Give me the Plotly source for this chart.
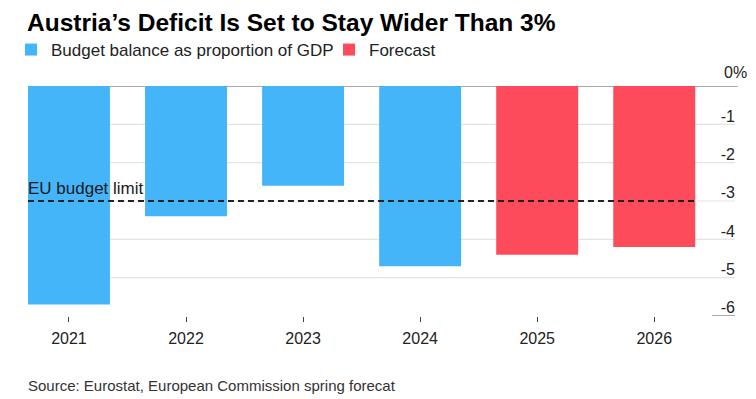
import plotly.graph_objects as go

# ---- data ----
years = ["2021", "2022", "2023", "2024", "2025", "2026"]
actual_years = ["2021", "2022", "2023", "2024"]
actual_values = [-5.7, -3.4, -2.6, -4.7]
forecast_years = ["2025", "2026"]
forecast_values = [-4.4, -4.2]
eu_limit = -3.0
y_ticks = [0, -1, -2, -3, -4, -5, -6]
y_tick_labels = ["0%", "-1", "-2", "-3", "-4", "-5", "-6"]

BLUE = "#45b5fa"
RED = "#fd4b5b"
BAR_WIDTH = 0.7
FONT = "Liberation Sans, Arial, Helvetica, sans-serif"

fig = go.Figure()
fig.add_bar(x=actual_years, y=actual_values, name="Budget balance as proportion of GDP",
            marker=dict(color=BLUE, line=dict(width=0)), width=BAR_WIDTH)
fig.add_bar(x=forecast_years, y=forecast_values, name="Forecast",
            marker=dict(color=RED, line=dict(width=0)), width=BAR_WIDTH)

# gridlines (all but the bottom one span the full width)
for v in y_ticks:
    if v == 0:
        fig.add_shape(type="line", xref="paper", yref="y", x0=0, x1=1.004, y0=v, y1=v,
                      line=dict(color="#8c8c8c", width=1.5), layer="below")
    elif v == min(y_ticks):
        fig.add_shape(type="line", xref="paper", yref="y", x0=0.9675, x1=1.0, y0=v, y1=v,
                      line=dict(color="#8c8c8c", width=1.5), layer="below")
    else:
        fig.add_shape(type="line", xref="paper", yref="y", x0=0, x1=1, y0=v, y1=v,
                      line=dict(color="#e3e3e3", width=1.2), layer="below")

# EU limit dashed line spanning from first bar's left edge to last bar's right edge
fig.add_shape(type="line", xref="x", yref="y",
              x0=0 - BAR_WIDTH / 2, x1=len(years) - 1 + BAR_WIDTH / 2,
              y0=eu_limit, y1=eu_limit,
              line=dict(color="#222222", width=1.8, dash="6px,4px"), layer="above")

fig.add_annotation(x=0 - BAR_WIDTH / 2, y=eu_limit, xref="x", yref="y",
                   text="EU budget limit", showarrow=False, xanchor="left", yanchor="bottom",
                   xshift=-2, yshift=1, font=dict(size=17, color="#1a1a1a", family=FONT))

# top label "0%" lets the % sign hang past the aligned numbers
fig.add_annotation(x=1, y=y_ticks[0], xref="paper", yref="y",
                   text=y_tick_labels[0], showarrow=False, xanchor="right", yanchor="bottom",
                   xshift=14, yshift=3, font=dict(size=16, color="#222222", family=FONT))

fig.add_annotation(x=0, y=-0.30, xref="paper", yref="paper",
                   text="Source: Eurostat, European Commission spring forecat",
                   showarrow=False, xanchor="left", yanchor="middle", xshift=-2,
                   font=dict(size=15, color="#333333", family=FONT))

fig.update_layout(
    width=756, height=399,
    margin=dict(l=28, r=21, t=86, b=83, autoexpand=False),
    paper_bgcolor="white", plot_bgcolor="white",
    barmode="overlay",
    font=dict(family=FONT, size=16, color="#222222"),
    title=dict(text="<b>Austria’s Deficit Is Set to Stay Wider Than 3%</b>",
               x=27 / 756, xref="container", xanchor="left",
               y=1 - 22 / 399, yref="container", yanchor="middle",
               font=dict(size=24.5, color="#000000", family=FONT)),
    showlegend=True,
    legend=dict(orientation="h", x=11 / 756, xref="container", xanchor="left",
                y=1 - 50 / 399, yref="container", yanchor="middle",
                font=dict(size=17, color="#222222"), bgcolor="rgba(0,0,0,0)",
                entrywidth=273, entrywidthmode="pixels", traceorder="normal"),
    xaxis=dict(type="category", categoryorder="array", categoryarray=years,
               range=[-0.35, 5.69], ticks="outside", ticklen=5, tickwidth=1,
               tickcolor="#444444", showgrid=False, showline=False, zeroline=False,
               automargin=False,
               tickfont=dict(size=16, color="#222222"), ticklabelstandoff=3),
    yaxis=dict(range=[-6, 0], side="right", tickmode="array", tickvals=y_ticks[1:],
               ticktext=y_tick_labels[1:], ticklabelposition="inside top",
               ticklabeloverflow="allow", ticklabelstandoff=-3, ticklabelshift=3,
               showgrid=False, zeroline=False,
               showline=False, ticks="", automargin=False,
               tickfont=dict(size=16, color="#222222")),
)

fig.write_html("out.html", config={"displayModeBar": False},
               post_script="document.body.style.margin='0';")
